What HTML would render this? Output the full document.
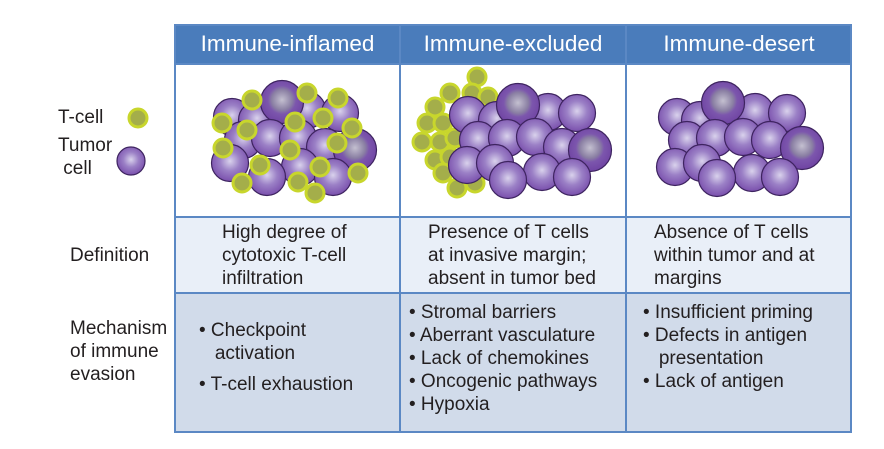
<!DOCTYPE html>
<html><head><meta charset="utf-8"><style>
body{margin:0;width:884px;height:449px;background:#fff;font-family:"Liberation Sans",sans-serif;position:relative;overflow:hidden}
.a{position:absolute}
.t{font-size:19px;color:#231f20;line-height:23px}
.h{color:#fff;font-size:22.5px;text-align:center;top:31px}
</style></head><body>
<svg class="a" style="left:0;top:0" width="884" height="449">
<defs>
<radialGradient id="tg" cx="0.5" cy="0.45" r="0.6"><stop offset="0" stop-color="#d9d2ec"/><stop offset="0.45" stop-color="#9b80c6"/><stop offset="1" stop-color="#7447a8"/></radialGradient>
<radialGradient id="dg" cx="0.5" cy="0.45" r="0.6"><stop offset="0" stop-color="#c4c0d0"/><stop offset="0.4" stop-color="#8a7fa3"/><stop offset="0.55" stop-color="#7c56ad"/><stop offset="1" stop-color="#6c3fa0"/></radialGradient>
<g id="T"><circle r="18.5" fill="url(#tg)" stroke="#3e2460" stroke-width="1.2"/></g>
<g id="D"><circle r="21.5" fill="url(#dg)" stroke="#3e2460" stroke-width="1.2"/></g>
<g id="C"><circle r="9" fill="#a4ae4a" stroke="#c8d62c" stroke-width="3"/></g>
<g id="L"><circle r="14" fill="url(#tg)" stroke="#3e2460" stroke-width="1.2"/></g>
</defs>
<rect x="174" y="24" width="678" height="40" fill="#4a7cbb"/>
<rect x="174" y="217" width="678" height="76" fill="#e9eff8"/>
<rect x="174" y="293" width="678" height="140" fill="#d1dbea"/>
<g fill="none" stroke="#5b88c4" stroke-width="2">
<rect x="175" y="25" width="676" height="407"/>
<line x1="400" y1="25" x2="400" y2="432"/><line x1="626" y1="25" x2="626" y2="432"/>
<line x1="175" y1="64" x2="851" y2="64"/><line x1="175" y1="217" x2="851" y2="217"/><line x1="175" y1="293" x2="851" y2="293"/>
</g>
<use href="#C" x="138" y="118"/><use href="#L" x="131" y="161"/>
<!-- col1 tumor -->
<use href="#T" x="232" y="117"/><use href="#T" x="307" y="110"/><use href="#T" x="340" y="113"/><use href="#T" x="257" y="120"/><use href="#D" x="282" y="102"/>
<use href="#T" x="243" y="140"/><use href="#T" x="270" y="138"/><use href="#T" x="298" y="138"/><use href="#T" x="325" y="147"/><use href="#D" x="355" y="150"/>
<use href="#T" x="230" y="163"/><use href="#T" x="300" y="167"/><use href="#T" x="333" y="177"/><use href="#T" x="267" y="177"/>
<use href="#C" x="252" y="100"/><use href="#C" x="307" y="93"/><use href="#C" x="338" y="98"/><use href="#C" x="222" y="123"/><use href="#C" x="247" y="130"/><use href="#C" x="295" y="122"/><use href="#C" x="323" y="118"/><use href="#C" x="352" y="128"/><use href="#C" x="223" y="148"/><use href="#C" x="290" y="150"/><use href="#C" x="337" y="143"/><use href="#C" x="260" y="165"/><use href="#C" x="320" y="167"/><use href="#C" x="298" y="182"/><use href="#C" x="358" y="173"/><use href="#C" x="242" y="183"/><use href="#C" x="315" y="193"/>
<!-- col2 -->
<use href="#C" x="477" y="77"/><use href="#C" x="450" y="93"/><use href="#C" x="472" y="93"/><use href="#C" x="488" y="97"/><use href="#C" x="435" y="107"/><use href="#C" x="427" y="123"/><use href="#C" x="443" y="123"/><use href="#C" x="422" y="142"/><use href="#C" x="440" y="142"/><use href="#C" x="455" y="138"/><use href="#C" x="435" y="160"/><use href="#C" x="450" y="157"/><use href="#C" x="443" y="173"/><use href="#C" x="457" y="188"/><use href="#C" x="475" y="183"/>
<use href="#T" x="468" y="115"/><use href="#T" x="548" y="112"/><use href="#T" x="577" y="113"/><use href="#T" x="497" y="120"/><use href="#D" x="518" y="105"/>
<use href="#T" x="478" y="140"/><use href="#T" x="507" y="138"/><use href="#T" x="535" y="137"/><use href="#T" x="562" y="147"/><use href="#D" x="590" y="150"/>
<use href="#T" x="467" y="165"/><use href="#T" x="495" y="163"/><use href="#T" x="542" y="172"/><use href="#T" x="572" y="177"/><use href="#T" x="508" y="180"/>
<!-- col3 -->
<use href="#T" x="677" y="117"/><use href="#T" x="755" y="112"/><use href="#T" x="787" y="113"/><use href="#T" x="700" y="120"/><use href="#D" x="723" y="103"/>
<use href="#T" x="687" y="140"/><use href="#T" x="715" y="138"/><use href="#T" x="743" y="137"/><use href="#T" x="770" y="140"/><use href="#D" x="802" y="148"/>
<use href="#T" x="675" y="167"/><use href="#T" x="702" y="163"/><use href="#T" x="752" y="173"/><use href="#T" x="780" y="177"/><use href="#T" x="717" y="178"/>
</svg>
<div class="a h" style="left:175px;width:225px">Immune-inflamed</div>
<div class="a h" style="left:400px;width:226px">Immune-excluded</div>
<div class="a h" style="left:626px;width:226px">Immune-desert</div>
<div class="a t" style="left:58px;top:106px">T-cell</div>
<div class="a t" style="left:58px;top:134px">Tumor<br>&nbsp;cell</div>
<div class="a t" style="left:70px;top:244px">Definition</div>
<div class="a t" style="left:70px;top:317px">Mechanism<br>of immune<br>evasion</div>
<div class="a t" style="left:222px;top:221px">High degree of<br>cytotoxic T-cell<br>infiltration</div>
<div class="a t" style="left:428px;top:221px">Presence of T cells<br>at invasive margin;<br>absent in tumor bed</div>
<div class="a t" style="left:654px;top:221px">Absence of T cells<br>within tumor and at<br>margins</div>
<div class="a t" style="left:199px;top:319px">• Checkpoint<br>&nbsp;&nbsp;&nbsp;activation</div>
<div class="a t" style="left:199px;top:373px">• T-cell exhaustion</div>
<div class="a t" style="left:409px;top:301px">• Stromal barriers<br>• Aberrant vasculature<br>• Lack of chemokines<br>• Oncogenic pathways<br>• Hypoxia</div>
<div class="a t" style="left:643px;top:301px">• Insufficient priming<br>• Defects in antigen<br>&nbsp;&nbsp;&nbsp;presentation<br>• Lack of antigen</div>
</body></html>
